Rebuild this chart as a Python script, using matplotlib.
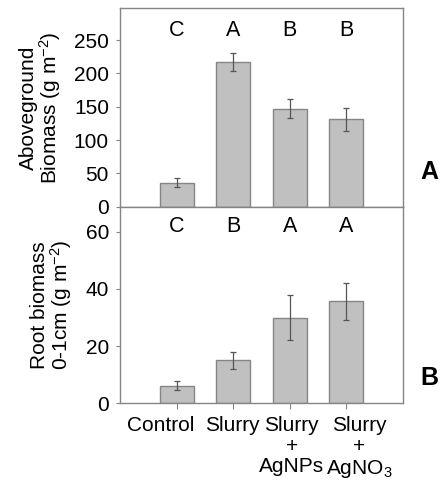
import numpy as np
import matplotlib.pyplot as plt
from matplotlib.transforms import ScaledTranslation

plt.rcParams['font.family'] = ['Liberation Sans', 'DejaVu Sans']
plt.rcParams['mathtext.fontset'] = 'custom'
plt.rcParams['mathtext.rm'] = 'Liberation Sans'
plt.rcParams['mathtext.it'] = 'Liberation Sans'
plt.rcParams['mathtext.default'] = 'regular'

# treatments
groups = ['Control', 'Slurry', 'Slurry\n+\nAgNPs', 'Slurry\n+\nAgNO$_3$']

# aboveground biomass (g m-2)
above_mean = [36, 217, 147, 131]
above_err = [6.5, 13, 14, 17.5]
above_letters = ['C', 'A', 'B', 'B']

# root biomass 0-1 cm (g m-2)
root_mean = [6.2, 15.0, 30.0, 35.7]
root_err = [1.6, 2.9, 8.0, 6.4]
root_letters = ['C', 'B', 'A', 'A']

x = np.arange(len(groups))
edge = '#858585'
fill = '#c0c0c0'
fs = 15

fig = plt.figure(figsize=(4.43, 4.82), dpi=100)
ax1 = fig.add_axes([0.2709, 0.5712, 0.6388, 0.4122])
ax2 = fig.add_axes([0.2709, 0.1633, 0.6388, 0.4079])


def draw(ax, mean, err, letters, ymax, ystep, letter_y, ylabel, panel, px, py):
    ax.bar(x, mean, width=0.6, color=fill, edgecolor=edge, linewidth=1.0, zorder=2)
    ax.errorbar(x, mean, yerr=err, fmt='none', ecolor='#555555', elinewidth=0.9,
                capsize=2.5, capthick=0.9, zorder=3)
    for xi, t in zip(x, letters):
        ax.text(xi, letter_y, t, ha='center', va='center', fontsize=fs + 0.5)
    ax.set_xlim(-1, 4)
    ax.set_ylim(0, ymax)
    ax.set_yticks(np.arange(0, ymax, ystep))
    for s in ax.spines.values():
        s.set_color(edge)
        s.set_linewidth(1.0)
    ax.tick_params(axis='y', colors=edge, labelcolor='black', labelsize=fs,
                   length=3, width=0.8, pad=5)
    ax.set_ylabel(ylabel, fontsize=fs, linespacing=0.95, labelpad=8)
    fig.text(px / 443, 1 - py / 482, panel, fontsize=18, fontweight='bold',
             ha='center', va='center')


draw(ax1, above_mean, above_err, above_letters, 298, 50, 265,
     'Aboveground\nBiomass (g m$^{-2}$)', 'A', 429, 172)
draw(ax2, root_mean, root_err, root_letters, 68.8, 20, 61.8,
     'Root biomass\n0-1cm (g m$^{-2}$)', 'B', 429, 378)

ax1.set_xticks([])
ax2.set_xticks(x)
ax2.set_xticklabels(groups, fontsize=fs, linespacing=1.12)
ax2.tick_params(axis='x', colors=edge, labelcolor='black', length=4, width=0.8, pad=5)

# labels in the original sit slightly off their ticks (pixel shifts)
shifts = [-16, -1, 2, 13]
for lab, dx in zip(ax2.get_xticklabels(), shifts):
    lab.set_transform(lab.get_transform() + ScaledTranslation(dx / 100, 0, fig.dpi_scale_trans))

fig.savefig('out.png', dpi=100)
